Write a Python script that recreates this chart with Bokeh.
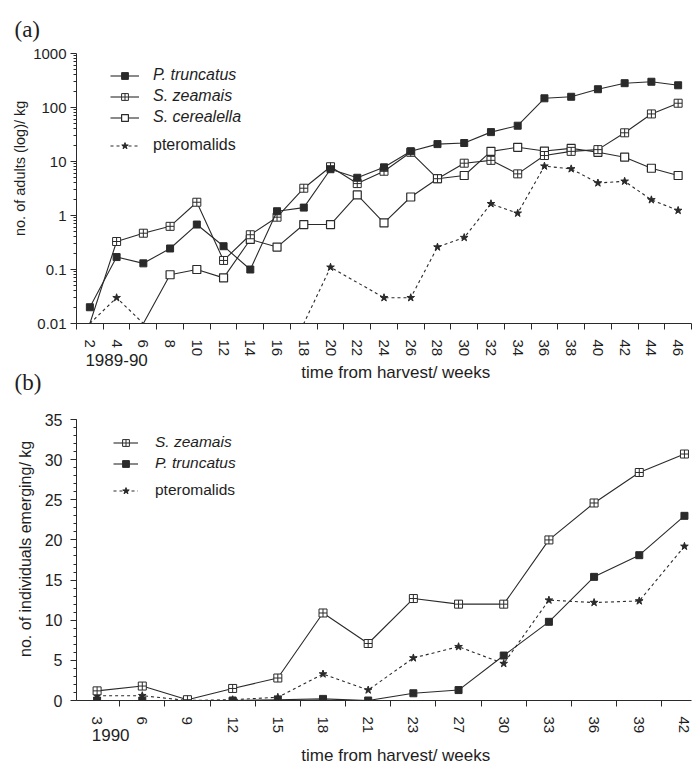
import numpy as np
from bokeh.plotting import figure
from bokeh.layouts import column
from bokeh.models import (FixedTicker, Legend, LegendItem, ColumnDataSource, Range1d,
                          LinearAxis)
from bokeh.embed import file_html
from bokeh.resources import INLINE

# ---------------- data: panel (a) 1989-90, adults per kg (log) ----------------
weeks_a = [2, 4, 6, 8, 10, 12, 14, 16, 18, 20, 22, 24, 26, 28, 30, 32, 34, 36, 38, 40, 42, 44, 46]
trunc_a = [0.02, 0.17, 0.13, 0.245, 0.68, 0.27, 0.10, 1.2, 1.4, 7.2, 5.0, 7.8, 15.5, 21, 22, 35, 46,
           148, 158, 218, 282, 300, 258]
zeam_a = [0.01, 0.33, 0.47, 0.63, 1.76, 0.147, 0.44, 0.93, 3.2, 8.0, 3.9, 6.6, 14.8, 4.8, 9.3, 10.5,
          5.9, 12.9, 15.4, 16.6, 34, 76, 120]
weeks_cer_a = [6, 8, 10, 12, 14, 16, 18, 20, 22, 24, 26, 28, 30, 32, 34, 36, 38, 40, 42, 44, 46]
cer_a = [0.01, 0.08, 0.10, 0.07, 0.36, 0.26, 0.68, 0.68, 2.4, 0.73, 2.2, 4.8, 5.5, 15.4, 18.3, 15.6,
         17.5, 14.8, 12.0, 7.5, 5.5]
weeks_pt_a = [2, 4, 6, 8, 10, 12, 14, 16, 18, 20, 24, 26, 28, 30, 32, 34, 36, 38, 40, 42, 44, 46]
pt_a = [0.01, 0.03, 0.01, 0.01, 0.01, 0.01, 0.01, 0.01, 0.01, 0.11, 0.03, 0.03, 0.26, 0.39, 1.65,
        1.1, 8.2, 7.3, 4.0, 4.3, 1.95, 1.24]
floor_a = 0.01
yticks_a = [0.01, 0.1, 1, 10, 100, 1000]
ylabels_a = ["0.01", "0.1", "1", "10", "100", "1000"]
season_a = "1989-90"
season_a_at = 4          # week under which the season label sits

# ---------------- data: panel (b) 1990, individuals emerging per kg ----------------
weeks_b = ["3", "6", "9", "12", "15", "18", "21", "23", "27", "30", "33", "36", "39", "42"]
zeam_b = [1.2, 1.8, 0.1, 1.5, 2.8, 10.9, 7.1, 12.7, 12.0, 12.0, 20.0, 24.6, 28.4, 30.7]
trunc_b = [0.0, 0.0, 0.0, 0.0, 0.1, 0.2, 0.0, 0.9, 1.3, 5.6, 9.8, 15.4, 18.1, 23.0]
pt_b = [0.6, 0.6, 0.0, 0.1, 0.4, 3.3, 1.3, 5.3, 6.7, 4.6, 12.5, 12.2, 12.4, 19.2]
season_b = "1990"
season_b_at = 0.3

NB = "\u00a0"
XLABEL = NB * 5 + "time from harvest/ weeks"
YLABEL_A = NB * 10 + "no. of adults (log)/ kg"
YLABEL_B = NB * 5 + "no. of individuals emerging/ kg"
INK = "#2a2a2a"
TXT = "#1e1e1e"
SANS = "Liberation Sans"
SERIF = "Liberation Serif"


def style_axis(ax):
    ax.axis_line_color = INK
    ax.major_tick_line_color = INK
    ax.minor_tick_line_color = INK
    ax.major_label_text_color = TXT
    ax.major_label_text_font = SANS
    ax.axis_label_text_color = TXT
    ax.axis_label_text_font = SANS
    ax.axis_label_text_font_style = "normal"


def base_style(p):
    p.outline_line_color = None
    p.grid.visible = False
    p.background_fill_color = "white"
    for ax in p.axis:
        style_axis(ax)


def season_axis(label, at, standoff, label_standoff):
    ax = LinearAxis(ticker=FixedTicker(ticks=[at], minor_ticks=[]),
                    major_label_overrides={at: label})
    style_axis(ax)
    ax.axis_line_color = None
    ax.major_tick_line_color = None
    ax.minor_tick_line_color = None
    ax.major_tick_out = 0
    ax.major_tick_in = 0
    ax.minor_tick_out = 0
    ax.minor_tick_in = 0
    ax.major_label_standoff = standoff
    ax.major_label_text_font_size = "17px"
    ax.axis_label = XLABEL
    ax.axis_label_text_font_size = "17px"
    ax.axis_label_standoff = label_standoff
    return ax


def src(xs, ys, floor=None):
    if floor is None:
        return ColumnDataSource(dict(x=list(xs), y=list(ys)))
    xx = [x for x, y in zip(xs, ys) if y > floor]
    yy = [y for y in ys if y > floor]
    return ColumnDataSource(dict(x=xx, y=yy))


def panel_title(p, text, standoff, size):
    p.title.text = text
    p.title.align = "left"
    p.title.offset = -62
    p.title.standoff = standoff
    p.title.text_font = SERIF
    p.title.text_font_size = size
    p.title.text_font_style = "normal"
    p.title.text_color = TXT


leg_common = dict(border_line_alpha=0, background_fill_alpha=0, padding=0, margin=0,
                  spacing=3, glyph_height=17, label_height=17, label_text_color=TXT,
                  label_text_font=SANS)

# ================= panel (a) =================
p1 = figure(width=697, height=386, y_axis_type="log",
            x_range=Range1d(1, 47), y_range=Range1d(0.01, 1000),
            output_backend="svg", toolbar_location=None,
            min_border_left=74, min_border_right=6, min_border_top=53, min_border_bottom=63)
base_style(p1)
panel_title(p1, "(a)", 24, "23px")

xa = p1.xaxis[0]
xa.ticker = FixedTicker(ticks=weeks_a, minor_ticks=list(range(1, 48, 2)))
xa.major_tick_out = 0
xa.major_tick_in = 0
xa.minor_tick_out = 6
xa.minor_tick_in = 0
xa.major_label_orientation = "vertical"
xa.major_label_standoff = 10
xa.major_label_text_font_size = "15px"
p1.add_layout(season_axis(season_a, season_a_at, -6, -6), "below")

ya = p1.yaxis[0]
ya.ticker = FixedTicker(ticks=yticks_a,
                        minor_ticks=[m * 10.0 ** k for k in range(-2, 3) for m in range(2, 10)])
ya.major_label_overrides = {t: s for t, s in zip(yticks_a, ylabels_a)}
ya.major_tick_out = 6
ya.major_tick_in = 0
ya.minor_tick_out = 3
ya.minor_tick_in = 0
ya.major_label_standoff = 4
ya.major_label_text_font_size = "15px"
ya.axis_label = YLABEL_A
ya.axis_label_text_font_size = "14.5px"
ya.axis_label_standoff = 2

lp = p1.line(weeks_pt_a, pt_a, line_color=INK, line_width=1.1, line_dash="3 3")
sp = p1.scatter("x", "y", source=src(weeks_pt_a, pt_a, floor_a), marker="star", size=8,
                fill_color=INK, line_color=INK)
lc = p1.line(weeks_cer_a, cer_a, line_color=INK, line_width=1.1)
sc = p1.scatter("x", "y", source=src(weeks_cer_a, cer_a, floor_a), marker="square", size=8,
                fill_color="white", line_color=INK, line_width=1.2)
lz = p1.line(weeks_a, zeam_a, line_color=INK, line_width=1.1)
sz = p1.scatter("x", "y", source=src(weeks_a, zeam_a, floor_a), marker="square_cross", size=8,
                fill_color="white", line_color=INK, line_width=1)
lt = p1.line(weeks_a, trunc_a, line_color=INK, line_width=1.1)
st = p1.scatter("x", "y", source=src(weeks_a, trunc_a, floor_a), marker="square", size=7,
                fill_color=INK, line_color=INK)

leg1 = Legend(items=[LegendItem(label="P. truncatus", renderers=[lt, st]),
                     LegendItem(label="S. zeamais", renderers=[lz, sz]),
                     LegendItem(label="S. cerealella", renderers=[lc, sc])],
              location=(34, 197), glyph_width=29, label_standoff=14,
              label_text_font_style="italic", label_text_font_size="16px", **leg_common)
leg2 = Legend(items=[LegendItem(label="pteromalids", renderers=[lp, sp])],
              location=(34, 169), glyph_width=29, label_standoff=14,
              label_text_font_style="normal", label_text_font_size="16px", **leg_common)
p1.add_layout(leg1)
p1.add_layout(leg2)

# ================= panel (b) =================
xb = list(range(len(weeks_b)))
p2 = figure(width=697, height=430,
            x_range=Range1d(-0.456, 13.156), y_range=Range1d(0, 35),
            output_backend="svg", toolbar_location=None,
            min_border_left=76, min_border_right=3, min_border_top=79, min_border_bottom=70)
base_style(p2)
p2.border_fill_alpha = 0
p2.margin = (-46, 0, 0, 0)
panel_title(p2, "(b)", 50, "23px")

xb_ax = p2.xaxis[0]
xb_ax.ticker = FixedTicker(ticks=xb, minor_ticks=[i + 0.5 for i in xb[:-1]])
xb_ax.major_label_overrides = {i: w for i, w in zip(xb, weeks_b)}
xb_ax.major_tick_out = 0
xb_ax.major_tick_in = 0
xb_ax.minor_tick_out = 6
xb_ax.minor_tick_in = 0
xb_ax.major_label_orientation = "vertical"
xb_ax.major_label_standoff = 10
xb_ax.major_label_text_font_size = "15px"
p2.add_layout(season_axis(season_b, season_b_at, -8, 2), "below")

yb_ax = p2.yaxis[0]
yb_ax.ticker = FixedTicker(ticks=list(range(0, 36, 5)), minor_ticks=list(range(0, 36)))
yb_ax.major_tick_out = 6
yb_ax.major_tick_in = 0
yb_ax.minor_tick_out = 3
yb_ax.minor_tick_in = 0
yb_ax.major_label_standoff = 8
yb_ax.major_label_text_font_size = "16px"
yb_ax.axis_label = YLABEL_B
yb_ax.axis_label_text_font_size = "16px"
yb_ax.axis_label_standoff = 8

lpb = p2.line(xb, pt_b, line_color=INK, line_width=1.1, line_dash="3 3")
spb = p2.scatter(xb, pt_b, marker="star", size=8, fill_color=INK, line_color=INK)
ltb = p2.line(xb, trunc_b, line_color=INK, line_width=1.1)
stb = p2.scatter(xb, trunc_b, marker="square", size=7, fill_color=INK, line_color=INK)
lzb = p2.line(xb, zeam_b, line_color=INK, line_width=1.1)
szb = p2.scatter(xb, zeam_b, marker="square_cross", size=8, fill_color="white",
                 line_color=INK, line_width=1)

leg3 = Legend(items=[LegendItem(label="S. zeamais", renderers=[lzb, szb]),
                     LegendItem(label="P. truncatus", renderers=[ltb, stb])],
              location=(37, 228), glyph_width=25, label_standoff=17,
              label_text_font_style="italic", label_text_font_size="15.5px", **leg_common)
leg4 = Legend(items=[LegendItem(label="pteromalids", renderers=[lpb, spb])],
              location=(37, 201), glyph_width=25, label_standoff=17,
              label_text_font_style="normal", label_text_font_size="15.5px", **leg_common)
p2.add_layout(leg3)
p2.add_layout(leg4)

layout = column(p1, p2, spacing=0)
open("out.html", "w").write(file_html(layout, INLINE))
